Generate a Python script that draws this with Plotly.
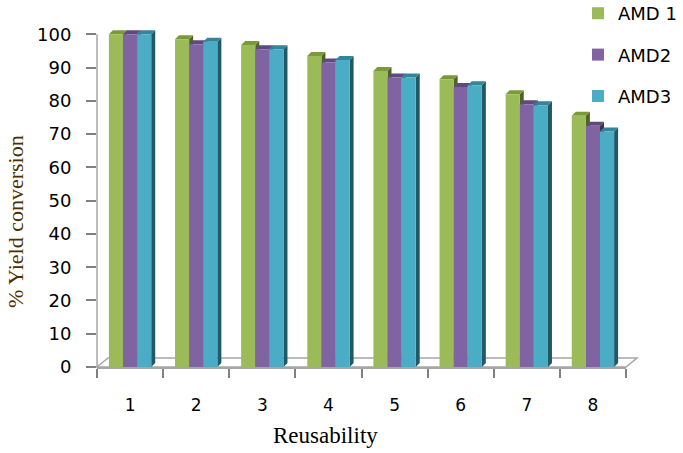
import plotly.graph_objects as go

cycles = [1, 2, 3, 4, 5, 6, 7, 8]
tick_labels = ["1", "2", "3", "4", "5", "6", "7", "8"]
amd1 = [100, 98.5, 96.8, 93.5, 89, 86.5, 82, 75.5]
amd2 = [100, 97, 95.5, 91.5, 87, 84.2, 79, 72.5]
amd3 = [100, 97.8, 95.5, 92.3, 87, 84.7, 78.7, 70.8]
series_names = ["AMD 1", "AMD2", "AMD3"]
front_colors = ["#9BBB59", "#8064A2", "#4BACC6"]
top_colors = ["#7A9A3A", "#5F4A7D", "#31859C"]
side_colors = ["#4F6228", "#3F3151", "#215967"]

series = [amd1, amd2, amd3]

W, H = 683, 453
ymax_tick = 100
yr = (0, 101.3)
L, R, B = 97, 57, 86
T = int(round((H - B) - (H - B - 34) * yr[1] / ymax_tick))
pw, ph = W - L - R, H - T - B
xr = (0.5, 8.5)
bargap = 0.36
bw = (1 - bargap) / 3
# depth offsets (pixels -> data units)
dx = 4 * (xr[1] - xr[0]) / pw
dy = 4 * (yr[1] - yr[0]) / ph

fig = go.Figure()
shapes = []
for j, (name, vals) in enumerate(zip(series_names, series)):
    fig.add_trace(go.Bar(
        x=cycles, y=vals, name=name,
        marker=dict(color=front_colors[j], line=dict(width=0)),
        legendgroup=name,
    ))
    for c, v in zip(cycles, vals):
        cx = c + (j - 1) * bw
        x0, x1 = cx - bw / 2, cx + bw / 2
        shapes.append(dict(
            type="path", xref="x", yref="y", layer="below",
            path=f"M {x1},{0} L {x1+dx},{dy} L {x1+dx},{v+dy} L {x1},{v} Z",
            fillcolor=side_colors[j], line=dict(width=0)))
        shapes.append(dict(
            type="path", xref="x", yref="y", layer="below",
            path=f"M {x0},{v} L {x0+dx},{v+dy} L {x1+dx},{v+dy} L {x1},{v} Z",
            fillcolor=top_colors[j], line=dict(width=0)))

# 3D floor
fdx = 11 / pw
fdy = 9 / ph
shapes.append(dict(
    type="path", xref="paper", yref="paper", layer="below",
    path=f"M 0,0 L {fdx},{fdy} L {1+fdx},{fdy} L 1,0 Z",
    fillcolor="rgba(0,0,0,0)", line=dict(color="#A6A6A6", width=1.5)))
# y axis line up to the top tick
shapes.append(dict(
    type="line", xref="paper", yref="paper", x0=0, x1=0, y0=0, y1=ymax_tick / yr[1],
    line=dict(color="#A6A6A6", width=1.5)))

fig.update_layout(
    width=W, height=H,
    margin=dict(l=L, r=R, t=T, b=B, autoexpand=False),
    paper_bgcolor="white", plot_bgcolor="white",
    barmode="group", bargap=bargap, bargroupgap=0,
    showlegend=True,
    legend=dict(xref="paper", yref="paper", x=(578 - L) / pw, y=(H - B + 5) / ph,
                xanchor="left", yanchor="top",
                font=dict(family="DejaVu Sans", size=18, color="black"),
                tracegroupgap=15, itemwidth=30, bgcolor="rgba(0,0,0,0)"),
    shapes=shapes,
    font=dict(family="DejaVu Sans", color="black"),
)
fig.update_xaxes(
    range=list(xr), tickmode="array", tickvals=cycles, ticktext=tick_labels,
    ticks="", showline=True, linecolor="#A6A6A6", linewidth=1.5,
    showgrid=False, zeroline=False, automargin=False,
    tickfont=dict(family="DejaVu Sans", size=17, color="black"),
    ticklabelstandoff=22,
    minor=dict(tickmode="array", tickvals=[c - 0.5 for c in cycles] + [cycles[-1] + 0.5],
               ticks="outside", ticklen=9, tickcolor="#808080", tickwidth=1.5),
)
fig.update_yaxes(
    range=list(yr), tickmode="array", tickvals=list(range(0, ymax_tick + 1, 10)),
    ticks="outside", ticklen=10, tickcolor="#808080", tickwidth=1.5,
    showline=False, automargin=False,
    showgrid=False, zeroline=False,
    tickfont=dict(family="DejaVu Sans", size=18, color="black"),
    ticklabelstandoff=11,
)
fig.add_annotation(text="Reusability", xref="paper", yref="paper",
                   x=(325 - L) / pw, y=(H - B - 435) / ph, showarrow=False,
                   font=dict(family="Liberation Serif", size=23, color="black"),
                   xanchor="center", yanchor="middle")
fig.add_annotation(text="% Yield conversion", xref="paper", yref="paper",
                   x=(15 - L) / pw, y=(H - B - 222) / ph, showarrow=False, textangle=-90,
                   font=dict(family="Liberation Serif", size=22, color="#4A3000"),
                   xanchor="center", yanchor="middle")

fig.write_html("out.html", config={"displayModeBar": False},
               post_script="document.body.style.margin='0';document.body.style.padding='0';")
